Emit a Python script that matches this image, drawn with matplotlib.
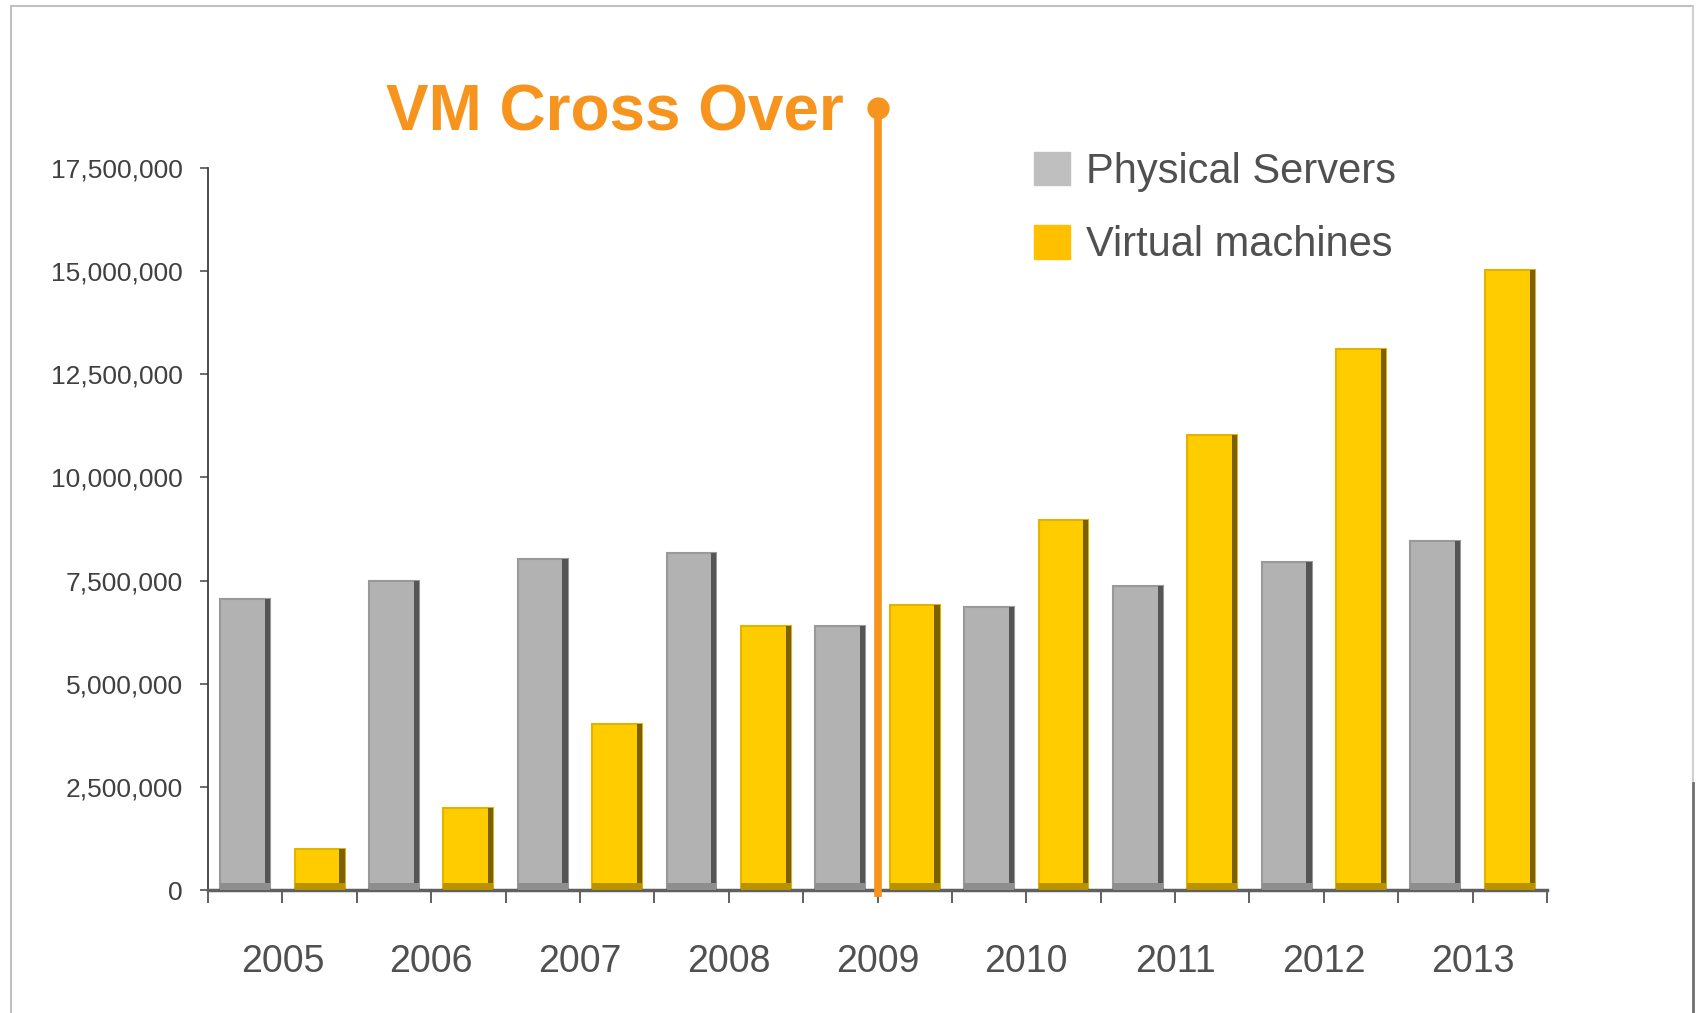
import numpy as np
import matplotlib.pyplot as plt
from matplotlib.lines import Line2D
from matplotlib.patches import Patch

plt.rcParams['font.family'] = ['Liberation Sans', 'DejaVu Sans']

years = ['2005', '2006', '2007', '2008', '2009', '2010', '2011', '2012', '2013']
physical = [7.05e6, 7.48e6, 8.03e6, 8.18e6, 6.40e6, 6.85e6, 7.38e6, 7.95e6, 8.45e6]
virtual = [1.0e6, 1.98e6, 4.02e6, 6.40e6, 6.92e6, 8.97e6, 11.03e6, 13.12e6, 15.03e6]
cross_year = '2009'

W, H = 1696, 1013
fig = plt.figure(figsize=(W / 100, H / 100), dpi=100)
ax = fig.add_axes([208 / W, 1 - 890 / H, (1547 - 208) / W, (890 - 168) / H])

n = len(years)
xg = np.arange(n) * 2
xv = xg + 1
bw = 0.67
strip = 0.07
base = 0.17e6

def draw_bars(xs, vals, fill, edge, dark, bottom_col):
    ax.bar(xs, vals, width=bw, color=fill, edgecolor=edge, linewidth=1.5, zorder=2)
    ax.bar(xs + bw / 2 - strip / 2, vals, width=strip, color=dark, linewidth=0, zorder=3)
    ax.bar(xs, np.minimum(vals, base), width=bw, color=bottom_col, linewidth=0, zorder=3)

draw_bars(xg, np.array(physical), '#B2B2B2', '#999999', '#555555', '#8e8e8e')
draw_bars(xv, np.array(virtual), '#FFCC00', '#E0B400', '#7A6000', '#B89200')

ax.set_xlim(-0.5, 2 * n - 0.5)
ax.set_ylim(0, 17.5e6)
ax.set_xticks(np.arange(-0.5, 2 * n, 1.0))
ax.set_xticklabels([])
ax.set_yticks(np.arange(0, 17.5e6 + 1, 2.5e6))
ax.set_yticklabels(['{:,}'.format(int(v)) for v in np.arange(0, 17.5e6 + 1, 2.5e6)])

for s in ['top', 'right']:
    ax.spines[s].set_visible(False)
ax.spines['bottom'].set_color('#606060')
ax.spines['bottom'].set_linewidth(2.5)
ax.spines['left'].set_color('#404040')
ax.spines['left'].set_linewidth(1.3)
ax.tick_params(axis='x', direction='out', length=9.5, width=1.4, color='#606060')
ax.tick_params(axis='y', direction='out', length=6, width=1.3, color='#606060',
               pad=12, labelsize=19, labelcolor='#404040')

for i, y in enumerate(years):
    ax.text(xg[i] + 0.5, -0.1, y, transform=ax.get_xaxis_transform(),
            ha='center', va='center', fontsize=27, color='#505050')

# cross over marker
ci = years.index(cross_year)
xc = xg[ci] + 0.5
ax.plot([xc, xc], [-0.17e6, 18.95e6], color='#F7941D', lw=5.5, clip_on=False,
        zorder=6, solid_capstyle='butt')
ax.plot([xc], [18.95e6], 'o', color='#F7941D', ms=15, clip_on=False, zorder=6)
fig.text(844 / W, 1 - 130 / H, 'VM Cross Over', ha='right', va='baseline',
         fontsize=46, fontweight='bold', color='#F7941D')

handles = [Patch(color='#BFBFBF'), Patch(color='#FFC000')]
leg = fig.legend(handles, ['Physical Servers', 'Virtual machines'],
                 loc='upper left', bbox_to_anchor=(1017 / W, 1 - 135 / H),
                 frameon=False, fontsize=30, handlelength=0.86, handleheight=0.86,
                 handletextpad=0.4, labelspacing=0.8, borderaxespad=0)
for t in leg.get_texts():
    t.set_color('#505050')

# outer frame
fig.add_artist(Line2D([11 / W, 1693 / W], [1 - 6 / H, 1 - 6 / H], color='#C0C0C0', lw=1.5))
fig.add_artist(Line2D([11 / W, 11 / W], [0, 1 - 6 / H], color='#C0C0C0', lw=1.5))
fig.add_artist(Line2D([1693 / W, 1693 / W], [1 - 783 / H, 1 - 6 / H], color='#D0D0D0', lw=1.5))
fig.add_artist(Line2D([1693 / W, 1693 / W], [0, 1 - 783 / H], color='#707070', lw=2))

fig.savefig('out.png', dpi=100)
